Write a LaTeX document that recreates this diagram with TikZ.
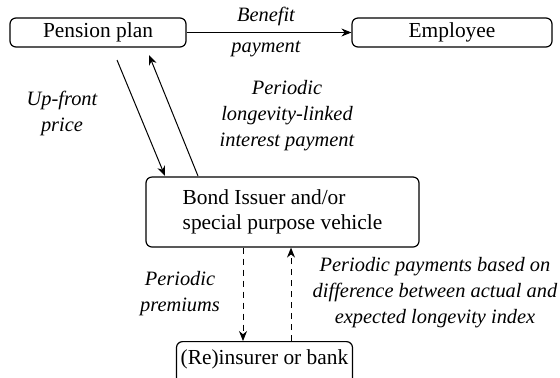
\documentclass[tikz,border=0pt]{standalone}
\usepackage{fontspec}
\setmainfont{Liberation Serif}
\usetikzlibrary{arrows.meta}
\begin{document}
\begin{tikzpicture}[x=0.5pt,y=-0.5pt,
  box/.style={draw, line width=0.6pt, rounded corners=3pt, inner sep=0pt, align=center, font=\fontsize{10.7}{12.5}\selectfont},
  lbl/.style={align=center, font=\fontsize{10.2}{13}\selectfont\itshape, inner sep=0pt},
  arr/.style={line width=0.5pt, -{Stealth[length=5pt,width=4pt]}},
  darr/.style={line width=0.5pt, dash pattern=on 3pt off 2.5pt, -{Stealth[length=5pt,width=4pt]}}]
\useasboundingbox (0,0) rectangle (560,377);
\node[box, minimum width=176*0.5pt, minimum height=29*0.5pt] (pp) at (98,32.5) {Pension plan};
\node[box, minimum width=200*0.5pt, minimum height=29*0.5pt] (em) at (452,32.5) {Employee};
\node[box, align=left, minimum width=273*0.5pt, minimum height=70*0.5pt] (bi) at (282.5,212) {Bond Issuer and/or\\special purpose vehicle};
\node[box, minimum width=176*0.5pt, minimum height=48*0.5pt, anchor=north] (rb) at (264.5,341) {};
\node[font=\fontsize{10.7}{12.5}\selectfont, inner sep=0pt] (rbt) at (264.5,359) {(Re)insurer or bank};
\coordinate (a1s) at (117,60);
\coordinate (a1e) at (165,176);
\coordinate (a2s) at (198,176);
\coordinate (a2e) at (149,55);
\draw[arr] (pp.east) -- (em.west);
\draw[arr] (a1s) -- (a1e);
\draw[arr] (a2s) -- (a2e);
\draw[darr] (bi.south -| 243,0) -- (rb.north -| 243,0);
\draw[darr] (rb.north -| 291,0) -- (bi.south -| 291,0);
\node[lbl] (l1) at (266,16) {Benefit};
\node[lbl] (l2) at (266,49) {payment};
\node[lbl] (l3) at (62,113) {Up-front\\price};
\node[lbl] (l4) at (287,116) {Periodic\\longevity-linked\\interest payment};
\node[lbl] (l5) at (180,294) {Periodic\\premiums};
\node[lbl] (l6) at (435,293) {Periodic payments based on\\difference between actual and\\expected longevity index};
\end{tikzpicture}
\end{document}
